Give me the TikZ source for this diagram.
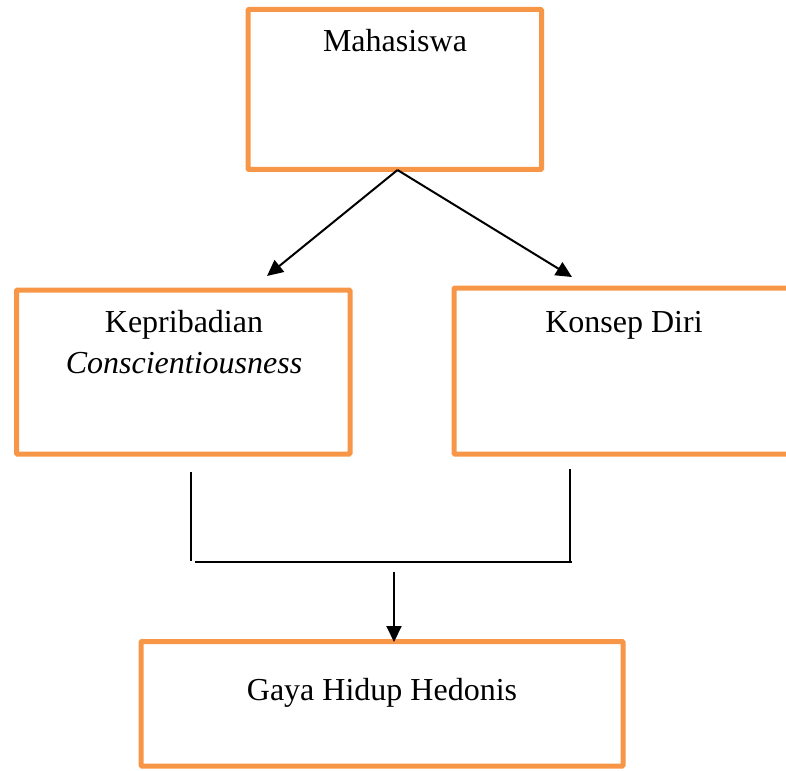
\documentclass[tikz,border=0pt]{standalone}
\usepackage{fontspec}
\setmainfont{Liberation Serif}
\usetikzlibrary{arrows.meta}
\definecolor{boxorange}{RGB}{247,150,70}
\begin{document}
\begin{tikzpicture}[x=1pt,y=-1pt,
  box/.style={draw=boxorange,line width=5pt,rounded corners=1pt},
  lbl/.style={anchor=base,inner sep=0pt,font=\fontsize{32}{41}\selectfont},
  conn/.style={line width=2pt},
  arr/.style={conn,-{Triangle[length=16pt,width=15pt]}}]
\useasboundingbox (0,0) rectangle (786,770);
% boxes
\draw[box] (248,9.5) rectangle (541.5,169.5);
\draw[box] (16.5,290) rectangle (350,454);
\draw[box] (454,288) rectangle (792,454);
\draw[box] (141,641.5) rectangle (623,766);
% named anchor points
\coordinate (mhs) at (397.5,170);
\coordinate (kepTip) at (267,276);
\coordinate (konTip) at (572,277);
\coordinate (kepL) at (191,472);
\coordinate (kepB) at (191,561);
\coordinate (konL) at (570,469);
\coordinate (konB) at (570,561);
\coordinate (hL) at (195,561.5);
\coordinate (hR) at (572,561.5);
\coordinate (dTop) at (394,572);
\coordinate (gTip) at (394,642);
% texts
\node[lbl] (tMhs) at (395,52) {Mahasiswa};
\node[lbl] (tKep) at (184,332) {Kepribadian};
\node[lbl] (tCon) at (184,373) {\itshape Conscientiousness};
\node[lbl] (tKon) at (624,332) {Konsep Diri};
\node[lbl] (tGay) at (382,700) {Gaya Hidup Hedonis};
% connectors
\draw[arr] (mhs) -- (kepTip);
\draw[arr] (mhs) -- (konTip);
\draw[conn] (kepL) -- (kepB);
\draw[conn] (konL) -- (konB);
\draw[conn] (hL) -- (hR);
\draw[arr] (dTop) -- (gTip);
\end{tikzpicture}
\end{document}
